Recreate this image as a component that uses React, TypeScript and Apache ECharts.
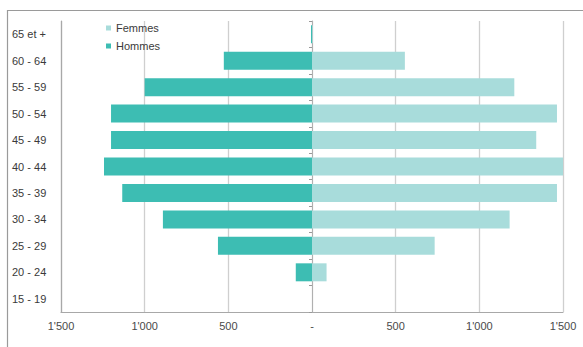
import React, { useEffect, useRef } from "react";
import * as echarts from "echarts";

const categories = ["15 - 19", "20 - 24", "25 - 29", "30 - 34", "35 - 39", "40 - 44", "45 - 49", "50 - 54", "55 - 59", "60 - 64", "65 et +"];
const hommes = [0, 97, 562, 891, 1134, 1243, 1201, 1201, 1000, 527, 6];
const femmes = [0, 87, 733, 1181, 1464, 1500, 1340, 1464, 1209, 555, 4];
const xTicks = [-1500, -1000, -500, 0, 500, 1000, 1500];

function fmt(v: number): string {
  const a = Math.abs(Math.round(v));
  if (a === 0) return "-";
  const s = String(a);
  return s.length > 3 ? s.slice(0, s.length - 3) + "'" + s.slice(s.length - 3) : s;
}

export default function App() {
  const ref = useRef<HTMLDivElement>(null);
  useEffect(() => {
    if (!ref.current) return;
    const chart = echarts.init(ref.current, null, { renderer: "svg" });
    const font = "Liberation Sans, Arial, sans-serif";
    chart.setOption({
      animation: false,
      textStyle: { fontFamily: font },
      graphic: [
        {
          type: "polyline",
          shape: { points: [[7.5, 400], [7.5, 10.5], [600, 10.5]] },
          style: { stroke: "#9a9a9a", lineWidth: 1.2, fill: null },
          silent: true,
        },
      ],
      legend: {
        data: ["Femmes", "Hommes"],
        orient: "vertical",
        left: 101,
        top: 17,
        icon: "rect",
        itemWidth: 5,
        itemHeight: 5,
        itemGap: 6,
        textStyle: { fontSize: 11, color: "#3a3a3a", lineHeight: 12, fontFamily: font },
      },
      grid: { left: 61, right: 20, top: 21, bottom: 35, containLabel: false },
      xAxis: {
        type: "value",
        min: xTicks[0],
        max: xTicks[xTicks.length - 1],
        interval: 500,
        axisLine: { show: true, onZero: false, lineStyle: { color: "#a8a8a8", width: 1.2 } },
        axisTick: { show: false },
        splitLine: { show: true, lineStyle: { color: "#cfcfcf", width: 1.3 } },
        axisLabel: {
          fontSize: 11,
          color: "#4a4a4a",
          margin: 8,
          formatter: (v: number) => fmt(v),
          fontFamily: font,
        },
      },
      yAxis: [
        {
          type: "category",
          data: categories,
          position: "left",
          axisLine: { show: true, onZero: false, lineStyle: { color: "#a8a8a8", width: 1.2 } },
          axisTick: { show: false },
          axisLabel: {
            fontSize: 11,
            color: "#3a3a3a",
            align: "left",
            margin: 49,
            fontFamily: font,
          },
        },
        {
          type: "category",
          data: categories,
          position: "left",
          axisLine: { show: true, onZero: true, lineStyle: { color: "#b0b0b0", width: 1 } },
          axisTick: { show: true, length: 3, lineStyle: { color: "#999" } },
          axisLabel: { show: false },
        },
      ],
      series: [
        {
          name: "Hommes",
          type: "bar",
          stack: "pop",
          data: hommes.map((v) => -v),
          barCategoryGap: "32%",
          itemStyle: { color: "#3dbdb3" },
        },
        {
          name: "Femmes",
          type: "bar",
          stack: "pop",
          data: femmes,
          barCategoryGap: "32%",
          itemStyle: { color: "#a8dcdb" },
        },
      ],
    });
    return () => chart.dispose();
  }, []);
  return (
    <div
      ref={ref}
      style={{ position: "absolute", left: 0, top: 0, width: 583, height: 347, background: "#fff" }}
    />
  );
}
